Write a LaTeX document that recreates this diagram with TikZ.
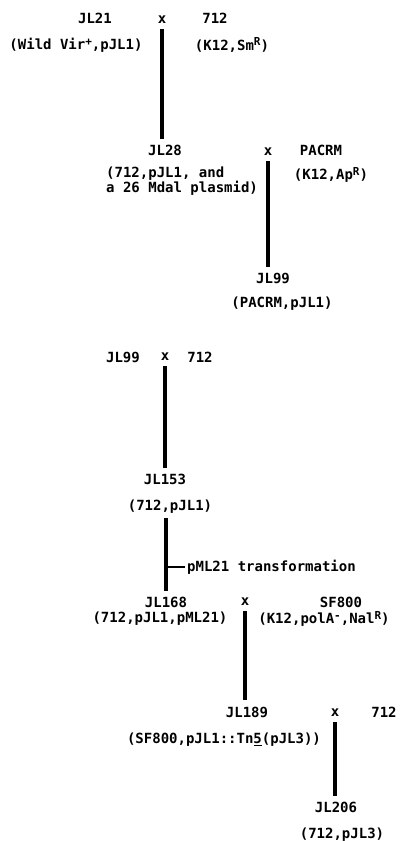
\documentclass[tikz,border=0pt]{standalone}
\usepackage{fontspec}
\setmonofont{DejaVu Sans Mono}
\newcommand{\upmark}[1]{\raisebox{0.55ex}{\fontsize{11}{11}\selectfont#1}}
\tikzset{
  strain/.style={font=\ttfamily\bfseries\fontsize{14}{12.5}\selectfont,inner sep=2pt},
  cross/.style={strain,inner sep=3pt},
  link/.style={line width=3.2pt,draw=black,shorten <=2pt,shorten >=4pt},
  tick/.style={line width=2.2pt,draw=black}
}

\begin{document}
\begin{tikzpicture}[x=1pt,y=-1pt]
\useasboundingbox (0,0) rectangle (402,841);
% first mating
\node[strain] (jl21) at (95,18) {JL21};
\node[cross] (x1) at (162,20) {x};
\node[strain] (k712a) at (215,18) {712};
\node[strain] (jl21d) at (76,45) {(Wild Vir\upmark{+},pJL1)};
\node[strain] (k712ad) at (232,45) {(K12,Sm\upmark{R})};
\node[strain] (jl28) at (165,150) {JL28};
\node[cross] (x2) at (268,152) {x};
\node[strain] (pacrm) at (321,150) {PACRM};
\node[strain,anchor=west,align=left] (jl28d) at (104,181) {(712,pJL1, and\\a 26 Mdal plasmid)};
\node[strain] (pacrmd) at (331,175) {(K12,Ap\upmark{R})};
\node[strain] (jl99) at (273,278) {JL99};
\node[strain] (jl99d) at (282,304) {(PACRM,pJL1)};
\draw[link] (x1.south) -- (x1 |- jl28.north);
\draw[link] (x2.south) -- (x2 |- jl99.north);
% second mating
\node[strain] (jl99b) at (123,357) {JL99};
\node[cross] (x3) at (165,357) {x};
\node[strain] (k712b) at (200,357) {712};
\node[strain] (jl153) at (165,479) {JL153};
\node[strain] (jl153d) at (170,507) {(712,pJL1)};
\node[strain,anchor=west] (trans) at (185,567) {pML21 transformation};
\node[strain] (jl168) at (166,602) {JL168};
\node[cross] (x4) at (245,602) {x};
\node[strain] (sf800) at (341,602) {SF800};
\node[strain] (jl168d) at (160,619) {(712,pJL1,pML21)};
\node[strain] (sf800d) at (324,619) {(K12,polA\upmark{-},Nal\upmark{R})};
\node[strain] (jl189) at (247,712) {JL189};
\node[cross] (x5) at (335,713) {x};
\node[strain] (k712c) at (384,712) {712};
\node[strain] (jl189d) at (224,740) {(SF800,pJL1::Tn\underline{5}(pJL3))};
\node[strain] (jl206) at (336,807) {JL206};
\node[strain] (jl206d) at (342,835) {(712,pJL3)};
\draw[link] (x3.south) -- (x3 |- jl153.north);
\draw[link] (jl153d.south -| jl168) -- (jl168.north);
\draw[tick] (jl168 |- trans.west) -- (trans.west);
\draw[link] (x4.south) -- (x4 |- jl189.north);
\draw[link] (x5.south) -- (x5 |- jl206.north);
\end{tikzpicture}
\end{document}
